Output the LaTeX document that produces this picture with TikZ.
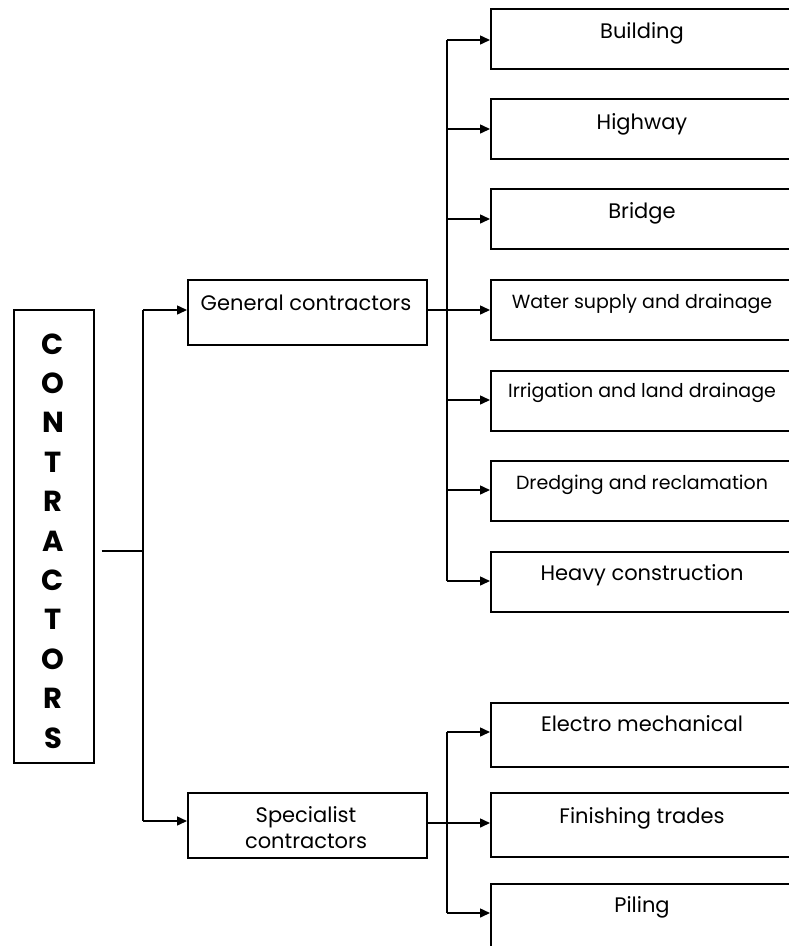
\documentclass[tikz,border=0pt]{standalone}
\usepackage{fontspec}
\setmainfont{Poppins}
\usetikzlibrary{arrows.meta}
\begin{document}
\begin{tikzpicture}[x=1pt,y=-1pt,
  conn/.style={line width=1.5pt},
  arr/.style={line width=1.5pt,-{Triangle[length=10pt,width=9pt]}},
  box/.style={draw,line width=1.5pt,anchor=north west,inner sep=0pt},
  rbox/.style={box,minimum width=310pt,minimum height=60pt},
  txt/.style={anchor=base,inner sep=0pt,font=\fontsize{21}{25}\selectfont},
  stxt/.style={anchor=base,inner sep=0pt,font=\fontsize{19}{23}\selectfont},
  big/.style={anchor=base,inner sep=0pt,font=\fontsize{29}{34}\bfseries\selectfont}]
\useasboundingbox (0,0) rectangle (788,946);
% main box
\node[box,minimum width=80pt,minimum height=453pt] (ct) at (13,309) {};
\foreach \l [count=\i from 0] in {C,O,N,T,R,A,C,T,O,R,S}
  \node[big] (l\i) at (53,{354+39.4*\i}) {\l};
% middle boxes
\node[box,minimum width=239pt,minimum height=65pt] (gc) at (187,279) {};
\node[txt] (gct) at (306,310) {General contractors};
\node[box,minimum width=239pt,minimum height=65pt] (sc) at (187,792) {};
\node[txt] (sct1) at (306,822) {Specialist};
\node[txt] (sct2) at (306,848) {contractors};
% right boxes
\foreach \n/\t in {b1/8,b2/98,b3/188,b4/279,b5/370,b6/460,b7/551}
  \node[rbox] (\n) at (490,\t) {};
\node[txt] (b1t) at (642,38) {Building};
\node[txt] (b2t) at (642,129) {Highway};
\node[txt] (b3t) at (642,218) {Bridge};
\node[stxt] (b4t) at (642,308) {Water supply and drainage};
\node[stxt] (b5t) at (642,397) {Irrigation and land drainage};
\node[stxt] (b6t) at (642,489) {Dredging and reclamation};
\node[txt] (b7t) at (642,580) {Heavy construction};
\node[rbox,minimum height=64pt] (s1) at (490,702) {};
\node[rbox,minimum height=64pt] (s2) at (490,792) {};
\node[rbox,minimum height=80pt] (s3) at (490,883) {};
\node[txt] (s1t) at (642,731) {Electro mechanical};
\node[txt] (s2t) at (642,823) {Finishing trades};
\node[txt] (s3t) at (642,912) {Piling};
% main trunk
\coordinate (m0) at (143,551);
\coordinate (m1) at (143,310);
\coordinate (m2) at (143,821);
\draw[conn] ([xshift=7pt]ct.east |- m0) -- (m0);
\draw[conn] (m1) -- (m2);
\draw[arr] (m1) -- (m1 -| gc.west);
\draw[arr] (m2) -- (m2 -| sc.west);
% general trunk
\coordinate (g1) at (447,40);
\coordinate (g2) at (447,129);
\coordinate (g3) at (447,219);
\coordinate (g4) at (447,310);
\coordinate (g5) at (447,400);
\coordinate (g6) at (447,490);
\coordinate (g7) at (447,581);
\draw[conn] (g1) -- (g7);
\draw[arr] (gc.east |- g4) -- (g4 -| b4.west);
\foreach \i in {1,2,3,5,6,7}
  \draw[arr] (g\i) -- (g\i -| b\i.west);
% specialist trunk
\coordinate (h1) at (447,732);
\coordinate (h2) at (447,823);
\coordinate (h3) at (447,913);
\draw[conn] (h1) -- (h3);
\draw[arr] (sc.east |- h2) -- (h2 -| s2.west);
\draw[arr] (h1) -- (h1 -| s1.west);
\draw[arr] (h3) -- (h3 -| s3.west);
\end{tikzpicture}
\end{document}
